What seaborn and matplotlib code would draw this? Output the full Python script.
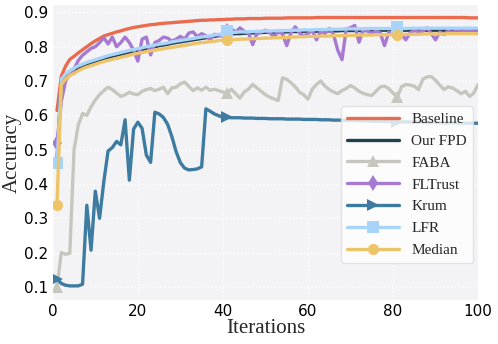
import numpy as np
import pandas as pd
import matplotlib
matplotlib.use("Agg")
import matplotlib.pyplot as plt
import seaborn as sns

iterations = list(range(1, 101))

baseline = [0.614, 0.714, 0.743, 0.763, 0.772, 0.782, 0.791, 0.800, 0.809, 0.817,
            0.824, 0.831, 0.835, 0.839, 0.843, 0.846, 0.850, 0.853, 0.856, 0.858,
            0.860, 0.862, 0.864, 0.865, 0.867, 0.868, 0.869, 0.870, 0.871, 0.872,
            0.873, 0.874, 0.875, 0.876, 0.877, 0.877, 0.878, 0.878, 0.879, 0.879,
            0.880, 0.880, 0.881, 0.881, 0.881, 0.882, 0.882, 0.882, 0.882, 0.883,
            0.883, 0.883, 0.883, 0.883, 0.884, 0.884, 0.884, 0.884, 0.884, 0.884,
            0.884, 0.885, 0.885, 0.885, 0.885, 0.885, 0.885, 0.885, 0.885, 0.885,
            0.885, 0.885, 0.885, 0.885, 0.885, 0.885, 0.885, 0.885, 0.885, 0.885,
            0.885, 0.885, 0.885, 0.885, 0.885, 0.885, 0.885, 0.885, 0.885, 0.885,
            0.885, 0.885, 0.885, 0.885, 0.885, 0.885, 0.885, 0.884, 0.884, 0.884]

our_fpd = [0.470, 0.700, 0.715, 0.725, 0.732, 0.738, 0.743, 0.748, 0.753, 0.757,
           0.761, 0.765, 0.769, 0.772, 0.775, 0.778, 0.781, 0.784, 0.787, 0.789,
           0.792, 0.795, 0.798, 0.800, 0.803, 0.805, 0.807, 0.810, 0.812, 0.814,
           0.816, 0.818, 0.820, 0.822, 0.824, 0.826, 0.828, 0.830, 0.832, 0.834,
           0.836, 0.837, 0.838, 0.838, 0.839, 0.840, 0.840, 0.841, 0.841, 0.842,
           0.842, 0.842, 0.843, 0.843, 0.843, 0.844, 0.844, 0.844, 0.845, 0.845,
           0.845, 0.845, 0.846, 0.846, 0.846, 0.846, 0.846, 0.847, 0.847, 0.847,
           0.847, 0.847, 0.847, 0.847, 0.848, 0.848, 0.848, 0.848, 0.848, 0.848,
           0.848, 0.848, 0.848, 0.848, 0.848, 0.848, 0.848, 0.848, 0.848, 0.848,
           0.848, 0.848, 0.848, 0.848, 0.848, 0.848, 0.848, 0.848, 0.848, 0.848]

faba = [0.100, 0.200, 0.195, 0.198, 0.500, 0.572, 0.605, 0.600, 0.625, 0.645,
        0.660, 0.672, 0.682, 0.675, 0.665, 0.655, 0.660, 0.667, 0.662, 0.660,
        0.670, 0.675, 0.678, 0.672, 0.676, 0.682, 0.663, 0.680, 0.682, 0.692,
        0.697, 0.684, 0.672, 0.680, 0.673, 0.682, 0.673, 0.676, 0.672, 0.668,
        0.664, 0.676, 0.663, 0.650, 0.668, 0.676, 0.690, 0.680, 0.670, 0.660,
        0.653, 0.648, 0.643, 0.709, 0.705, 0.695, 0.683, 0.668, 0.660, 0.647,
        0.676, 0.690, 0.700, 0.685, 0.675, 0.668, 0.663, 0.672, 0.678, 0.687,
        0.680, 0.670, 0.664, 0.660, 0.658, 0.670, 0.683, 0.685, 0.678, 0.665,
        0.653, 0.683, 0.690, 0.688, 0.685, 0.675, 0.705, 0.712, 0.713, 0.702,
        0.688, 0.675, 0.683, 0.680, 0.672, 0.663, 0.670, 0.655, 0.665, 0.690]

fltrust = [0.520, 0.640, 0.700, 0.720, 0.735, 0.760, 0.775, 0.785, 0.795, 0.800,
           0.812, 0.826, 0.808, 0.828, 0.800, 0.812, 0.828, 0.812, 0.790, 0.758,
           0.822, 0.828, 0.776, 0.812, 0.818, 0.828, 0.825, 0.816, 0.822, 0.830,
           0.822, 0.840, 0.843, 0.829, 0.838, 0.832, 0.820, 0.836, 0.834, 0.830,
           0.845, 0.852, 0.842, 0.855, 0.845, 0.840, 0.806, 0.838, 0.842, 0.848,
           0.840, 0.830, 0.842, 0.838, 0.803, 0.840, 0.858, 0.840, 0.830, 0.838,
           0.848, 0.820, 0.845, 0.838, 0.853, 0.836, 0.790, 0.762, 0.852, 0.855,
           0.862, 0.813, 0.850, 0.846, 0.838, 0.846, 0.840, 0.803, 0.842, 0.838,
           0.846, 0.835, 0.820, 0.840, 0.848, 0.842, 0.845, 0.855, 0.838, 0.820,
           0.843, 0.835, 0.848, 0.840, 0.850, 0.843, 0.846, 0.848, 0.843, 0.845]

krum = [0.124, 0.110, 0.105, 0.103, 0.103, 0.103, 0.108, 0.338, 0.207, 0.379,
        0.300, 0.407, 0.496, 0.506, 0.524, 0.514, 0.587, 0.411, 0.560, 0.580,
        0.562, 0.484, 0.463, 0.609, 0.604, 0.594, 0.574, 0.538, 0.494, 0.462,
        0.446, 0.441, 0.442, 0.444, 0.450, 0.619, 0.612, 0.604, 0.599, 0.594,
        0.594, 0.593, 0.593, 0.593, 0.592, 0.592, 0.592, 0.591, 0.591, 0.591,
        0.590, 0.590, 0.590, 0.590, 0.589, 0.589, 0.589, 0.589, 0.588, 0.588,
        0.588, 0.588, 0.587, 0.587, 0.587, 0.586, 0.586, 0.586, 0.585, 0.585,
        0.585, 0.584, 0.584, 0.584, 0.583, 0.583, 0.583, 0.582, 0.582, 0.582,
        0.581, 0.581, 0.581, 0.580, 0.580, 0.580, 0.580, 0.579, 0.579, 0.579,
        0.579, 0.578, 0.578, 0.578, 0.578, 0.577, 0.577, 0.577, 0.577, 0.577]

lfr = [0.462, 0.705, 0.720, 0.730, 0.738, 0.744, 0.749, 0.754, 0.758, 0.762,
       0.766, 0.770, 0.774, 0.777, 0.780, 0.783, 0.786, 0.789, 0.792, 0.794,
       0.797, 0.800, 0.802, 0.805, 0.807, 0.809, 0.811, 0.814, 0.816, 0.818,
       0.820, 0.822, 0.824, 0.826, 0.828, 0.830, 0.832, 0.834, 0.836, 0.838,
       0.846, 0.841, 0.842, 0.843, 0.843, 0.844, 0.844, 0.845, 0.845, 0.846,
       0.846, 0.846, 0.847, 0.847, 0.847, 0.848, 0.848, 0.848, 0.849, 0.849,
       0.849, 0.850, 0.850, 0.850, 0.851, 0.851, 0.851, 0.851, 0.852, 0.852,
       0.852, 0.852, 0.852, 0.853, 0.853, 0.853, 0.853, 0.853, 0.853, 0.853,
       0.856, 0.853, 0.853, 0.854, 0.854, 0.854, 0.854, 0.854, 0.854, 0.854,
       0.854, 0.854, 0.854, 0.854, 0.854, 0.854, 0.854, 0.854, 0.854, 0.854]

median = [0.340, 0.690, 0.705, 0.716, 0.722, 0.730, 0.736, 0.741, 0.745, 0.749,
          0.753, 0.757, 0.760, 0.763, 0.766, 0.769, 0.772, 0.775, 0.778, 0.781,
          0.783, 0.786, 0.788, 0.790, 0.792, 0.794, 0.796, 0.798, 0.800, 0.802,
          0.804, 0.806, 0.808, 0.810, 0.812, 0.813, 0.815, 0.816, 0.818, 0.819,
          0.820, 0.821, 0.821, 0.822, 0.822, 0.823, 0.823, 0.824, 0.824, 0.825,
          0.825, 0.826, 0.826, 0.827, 0.827, 0.828, 0.828, 0.829, 0.829, 0.830,
          0.830, 0.830, 0.831, 0.831, 0.831, 0.832, 0.832, 0.832, 0.833, 0.833,
          0.833, 0.834, 0.834, 0.834, 0.834, 0.835, 0.835, 0.835, 0.835, 0.835,
          0.835, 0.836, 0.836, 0.836, 0.836, 0.836, 0.837, 0.837, 0.837, 0.837,
          0.837, 0.837, 0.838, 0.838, 0.838, 0.838, 0.838, 0.838, 0.838, 0.838]

series = [
    ("Baseline", baseline, "#EA6C4E", None),
    ("Our FPD", our_fpd, "#233F50", None),
    ("FABA", faba, "#C6C6BE", "^"),
    ("FLTrust", fltrust, "#A67AD2", "d"),
    ("Krum", krum, "#3D7BA0", ">"),
    ("LFR", lfr, "#A8D4FA", "s"),
    ("Median", median, "#EDC468", "o"),
]

sns.set_theme(style="darkgrid")
fig = plt.figure(figsize=(4.98, 3.44), dpi=100)
ax = fig.add_axes([0.106, 0.128, 0.854, 0.857])
ax.set_facecolor("#F3F3F6")
ax.grid(True, color="white", linestyle=":", linewidth=1.0)
for s in ax.spines.values():
    s.set_visible(False)

for name, vals, color, mk in series:
    sns.lineplot(x=iterations, y=vals, ax=ax, color=color, label=name,
                 linewidth=2.4, marker=mk, markevery=40, markersize=8,
                 markeredgewidth=0, markerfacecolor=color)

ax.set_xlim(0, 100)
ax.set_ylim(0.062, 0.921)
ax.set_xticks([0, 20, 40, 60, 80, 100])
ax.set_yticks([0.1, 0.2, 0.3, 0.4, 0.5, 0.6, 0.7, 0.8, 0.9])
ax.tick_params(axis="both", labelsize=11, length=0, pad=3, colors="black")
for lab in ax.get_xticklabels() + ax.get_yticklabels():
    lab.set_family("DejaVu Sans")

ax.set_xlabel("Iterations", family="Liberation Serif", fontsize=15, labelpad=0)
ax.set_ylabel("Accuracy", family="Liberation Serif", fontsize=15, labelpad=2)

leg = ax.legend(loc="lower right", bbox_to_anchor=(0.988, 0.125), borderaxespad=0,
                prop={"family": "Liberation Serif", "size": 11}, handlelength=3.4,
                frameon=True, fancybox=True, framealpha=0.8, labelspacing=0.53)
leg.get_frame().set_edgecolor("#DDDDDD")
leg.get_frame().set_facecolor("white")

fig.savefig("out.png", dpi=100)
